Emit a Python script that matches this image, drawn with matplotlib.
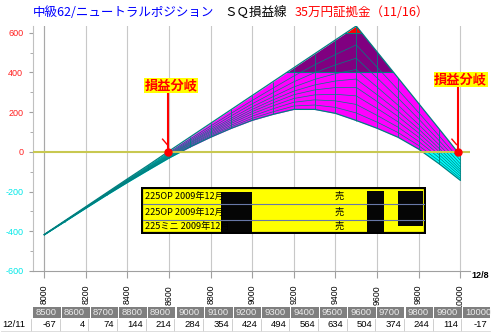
import matplotlib
matplotlib.use('Agg')
import matplotlib.pyplot as plt
from matplotlib.patches import Rectangle

# ---------------- data ----------------
prices = [8000, 8100, 8200, 8300, 8400, 8500, 8600, 8700, 8800, 8900, 9000,
          9100, 9200, 9300, 9400, 9500, 9600, 9700, 9800, 9900, 10000]
# SQ (expiry) P/L - top line
expiry_pl = [-416, -346, -276, -206, -136, -67, 4, 74, 144, 214, 284,
             354, 424, 494, 564, 634, 504, 374, 244, 114, -17]
# current P/L - bottom line
current_pl = [-418, -351, -284, -218, -154, -92, -31, 24, 74, 119, 159,
              189, 214, 214, 194, 158, 119, 74, 14, -61, -143]
# intermediate date curves
curve_1 = [-416, -347, -278, -208, -140, -72, -3, 64, 130, 195, 259,
           321, 382, 438, 490, 539, 427, 314, 198, 79, -42]
curve_2 = [-417, -348, -279, -210, -142, -76, -8, 57, 120, 182, 242,
           298, 353, 399, 438, 472, 373, 272, 166, 55, -60]
curve_3 = [-417, -348, -280, -212, -144, -79, -12, 51, 112, 170, 227,
           278, 327, 365, 394, 415, 327, 236, 138, 34, -75]
curve_4 = [-417, -349, -280, -213, -146, -81, -16, 46, 105, 161, 214,
           262, 306, 337, 357, 367, 288, 206, 115, 16, -88]
curve_5 = [-417, -349, -281, -214, -148, -83, -19, 42, 99, 152, 203,
           247, 288, 312, 324, 325, 254, 179, 95, 0, -99]
curve_6 = [-417, -350, -282, -215, -149, -86, -22, 37, 92, 144, 192,
           232, 269, 287, 290, 282, 219, 152, 74, -16, -110]
curve_7 = [-418, -350, -283, -216, -151, -88, -25, 33, 86, 135, 180,
           217, 250, 262, 257, 239, 184, 125, 53, -31, -122]
curve_8 = [-418, -351, -283, -217, -153, -90, -28, 28, 80, 127, 169,
           202, 231, 236, 224, 196, 150, 98, 32, -47, -133]
mid_curves = [curve_1, curve_2, curve_3, curve_4, curve_5, curve_6, curve_7, curve_8]

breakeven_prices = [8596, 9987]
xtick_values = [8000, 8200, 8400, 8600, 8800, 9000, 9200, 9400, 9600, 9800, 10000]
ytick_values = [-600, -400, -200, 0, 200, 400, 600]

table_date = '12/11'
table_prices = [8500, 8600, 8700, 8800, 8900, 9000, 9100, 9200,
                9300, 9400, 9500, 9600, 9700, 9800, 9900, 10000]
table_values = [-67, 4, 74, 144, 214, 284, 354, 424,
                494, 564, 634, 504, 374, 244, 114, -17]

position_names = ['225OP 2009年12月', '225OP 2009年12月', '225ミニ 2009年12月']
position_sides = ['売', '売', '売']

title_blue = '中級62/ニュートラルポジション'
title_black = 'ＳＱ損益線'
title_red = '35万円証拠金（11/16）'
breakeven_label = '損益分岐'
axis_date_label = '12/8'

# ---------------- style ----------------
plt.rcParams['font.family'] = ['Liberation Sans', 'Noto Sans CJK JP', 'DejaVu Sans']
plt.rcParams['axes.unicode_minus'] = False
JP = ['Noto Sans CJK JP', 'DejaVu Sans']
TEAL = '#008080'

W, H = 491, 333
fig = plt.figure(figsize=(W / 100, H / 100), dpi=100)
fig.patch.set_facecolor('white')


def fx(px):
    return px / W


def fy(py):
    return 1 - py / H


# ---------------- main axes ----------------
ax = fig.add_axes([fx(33), fy(271), (470 - 33) / W, (271 - 26) / H])
ax.set_xlim(7946, 10047)
ax.set_ylim(-600, 634)
ax.set_axisbelow(True)

bands = [(-2000, 0, '#00ffff'), (0, 400, '#ff00ff'), (400, 600, '#800080'), (600, 2000, '#ff0000')]
for lo, hi, col in bands:
    poly = ax.fill_between(prices, current_pl, expiry_pl, color=col, lw=0, zorder=2)
    poly.set_clip_path(Rectangle((7000, lo), 4000, hi - lo, transform=ax.transData))

# contour lines at band boundaries, clipped to the band area
band_poly = ax.fill_between(prices, current_pl, expiry_pl, color='none', lw=0)
for lev in (400, 600):
    ln = ax.axhline(lev, color=TEAL, lw=0.8, zorder=3)
    ln.set_clip_path(band_poly.get_paths()[0], ax.transData)

for c in mid_curves:
    ax.plot(prices, c, color=TEAL, lw=0.5, zorder=3)
ax.vlines(prices, current_pl, expiry_pl, color=TEAL, lw=0.6, zorder=3)
ax.plot(prices, expiry_pl, color=TEAL, lw=0.9, zorder=4)
ax.plot(prices, current_pl, color=TEAL, lw=0.9, zorder=4)

# zero line
ax.axhline(0, color='#c8c850', lw=1.5, zorder=5)

# grid
ax.set_xticks(xtick_values)
ax.grid(axis='x', color='#c8c8c8', lw=0.8)
ax.axvline(xtick_values[0], color='#a8a8a8', lw=0.8, zorder=1)

# breakeven markers
label_y = [335, 366]
line_top = [301, 331]
for be, ly, lt in zip(breakeven_prices, label_y, line_top):
    ax.plot([be, be], [0, lt], color='#ff0000', lw=1.5, zorder=6, solid_capstyle='butt')
    ax.plot([be - 27, be - 5], [64, 37], color='#ff0000', lw=1.0, zorder=6)
    ax.plot([be], [0], 'o', color='#ff0000', ms=5, zorder=7)
    ax.text(be + 15, ly, breakeven_label, color='#ff0000', fontsize=9.5, fontweight='bold',
            family=JP, ha='center', va='center', zorder=8, clip_on=False,
            bbox=dict(facecolor='#ffff00', edgecolor='none', pad=0.3))

# axes styling
for s in ('top', 'right'):
    ax.spines[s].set_visible(False)
ax.spines['left'].set_color('#c0c0c0')
ax.spines['bottom'].set_color('#a0a0a0')
ax.set_yticks(ytick_values)
ax.set_yticks(list(range(-600, 601, 100)), minor=True)
ax.set_yticklabels([str(v) for v in ytick_values])
for lbl, v in zip(ax.get_yticklabels(), ytick_values):
    lbl.set_color('#ff2020' if v >= 0 else '#00e8e8')
ax.tick_params(axis='y', which='major', length=3, color='#a0a0a0', pad=4, labelsize=6.5)
ax.tick_params(axis='y', which='minor', length=2, color='#a0a0a0')
ax.set_xticklabels([str(v) for v in xtick_values], rotation=90, fontsize=6.3)
ax.tick_params(axis='x', length=5, color='#a0a0a0', pad=5)

# ---------------- titles ----------------
fig.text(fx(33), fy(13), title_blue, color='#0000ff', fontsize=9, family=JP, va='center', ha='left')
fig.text(fx(224), fy(13), title_black, color='black', fontsize=9, family=JP, va='center', ha='left')
fig.text(fx(295), fy(13), title_red, color='#ff0000', fontsize=9, family=JP, va='center', ha='left')
fig.text(fx(471), fy(275.5), axis_date_label, color='black', fontsize=6.5, fontweight='bold',
         va='center', ha='left')

# ---------------- position box ----------------
bx = fig.add_axes([fx(141), fy(234), 285 / W, 47 / H])
bx.set_xlim(0, 285)
bx.set_ylim(47, 0)
bx.axis('off')
bx.add_patch(Rectangle((0.8, 0.8), 283.4, 45.4, facecolor='#ffff00', edgecolor='black', lw=1.6))
for yy in (17, 33):
    bx.plot([2, 283], [yy, yy], color='#6878a8', lw=0.8)
row_y = [9.5, 25.5, 39.5]
for name, side, yy in zip(position_names, position_sides, row_y):
    bx.text(4, yy, name, fontsize=6.6, family=JP, va='center', ha='left', color='black')
    bx.text(198, yy, side, fontsize=6.6, family=JP, va='center', ha='center', color='black')
for (x0, y0, w, h) in [(79.7, 4.5, 31, 40.5), (226.3, 4.2, 16.7, 41), (257, 4.2, 24.7, 35)]:
    bx.add_patch(Rectangle((x0, y0), w, h, facecolor='#050505', edgecolor='none'))

# ---------------- bottom table ----------------
tx = fig.add_axes([0, fy(332), 1, (332 - 306) / H])
tx.set_xlim(0, W)
tx.set_ylim(332, 306)
tx.axis('off')
cw = 458 / len(table_prices)
for i, (p, v) in enumerate(zip(table_prices, table_values)):
    x0 = 33 + i * cw
    tx.add_patch(Rectangle((x0 + 0.5, 306.7), cw - 1.2, 11, facecolor='#7f7f7f', edgecolor='none'))
    tx.text(x0 + 2.5, 312.3, str(p), color='#ececec', fontsize=6.8, va='center', ha='left')
    vx0 = 31 + i * 28.7
    tx.plot([vx0, vx0], [318.5, 330.5], color='#c8c8c8', lw=0.6)
    tx.text(vx0 + 28.7 - 3, 324.5, str(v), color='black', fontsize=6.8, va='center', ha='right')
tx.plot([1, 490], [330.8, 330.8], color='#d8d8d8', lw=0.6)
tx.text(2, 324.5, table_date, color='black', fontsize=6.8, va='center', ha='left')

fig.savefig('out.png', dpi=100, facecolor='white')
